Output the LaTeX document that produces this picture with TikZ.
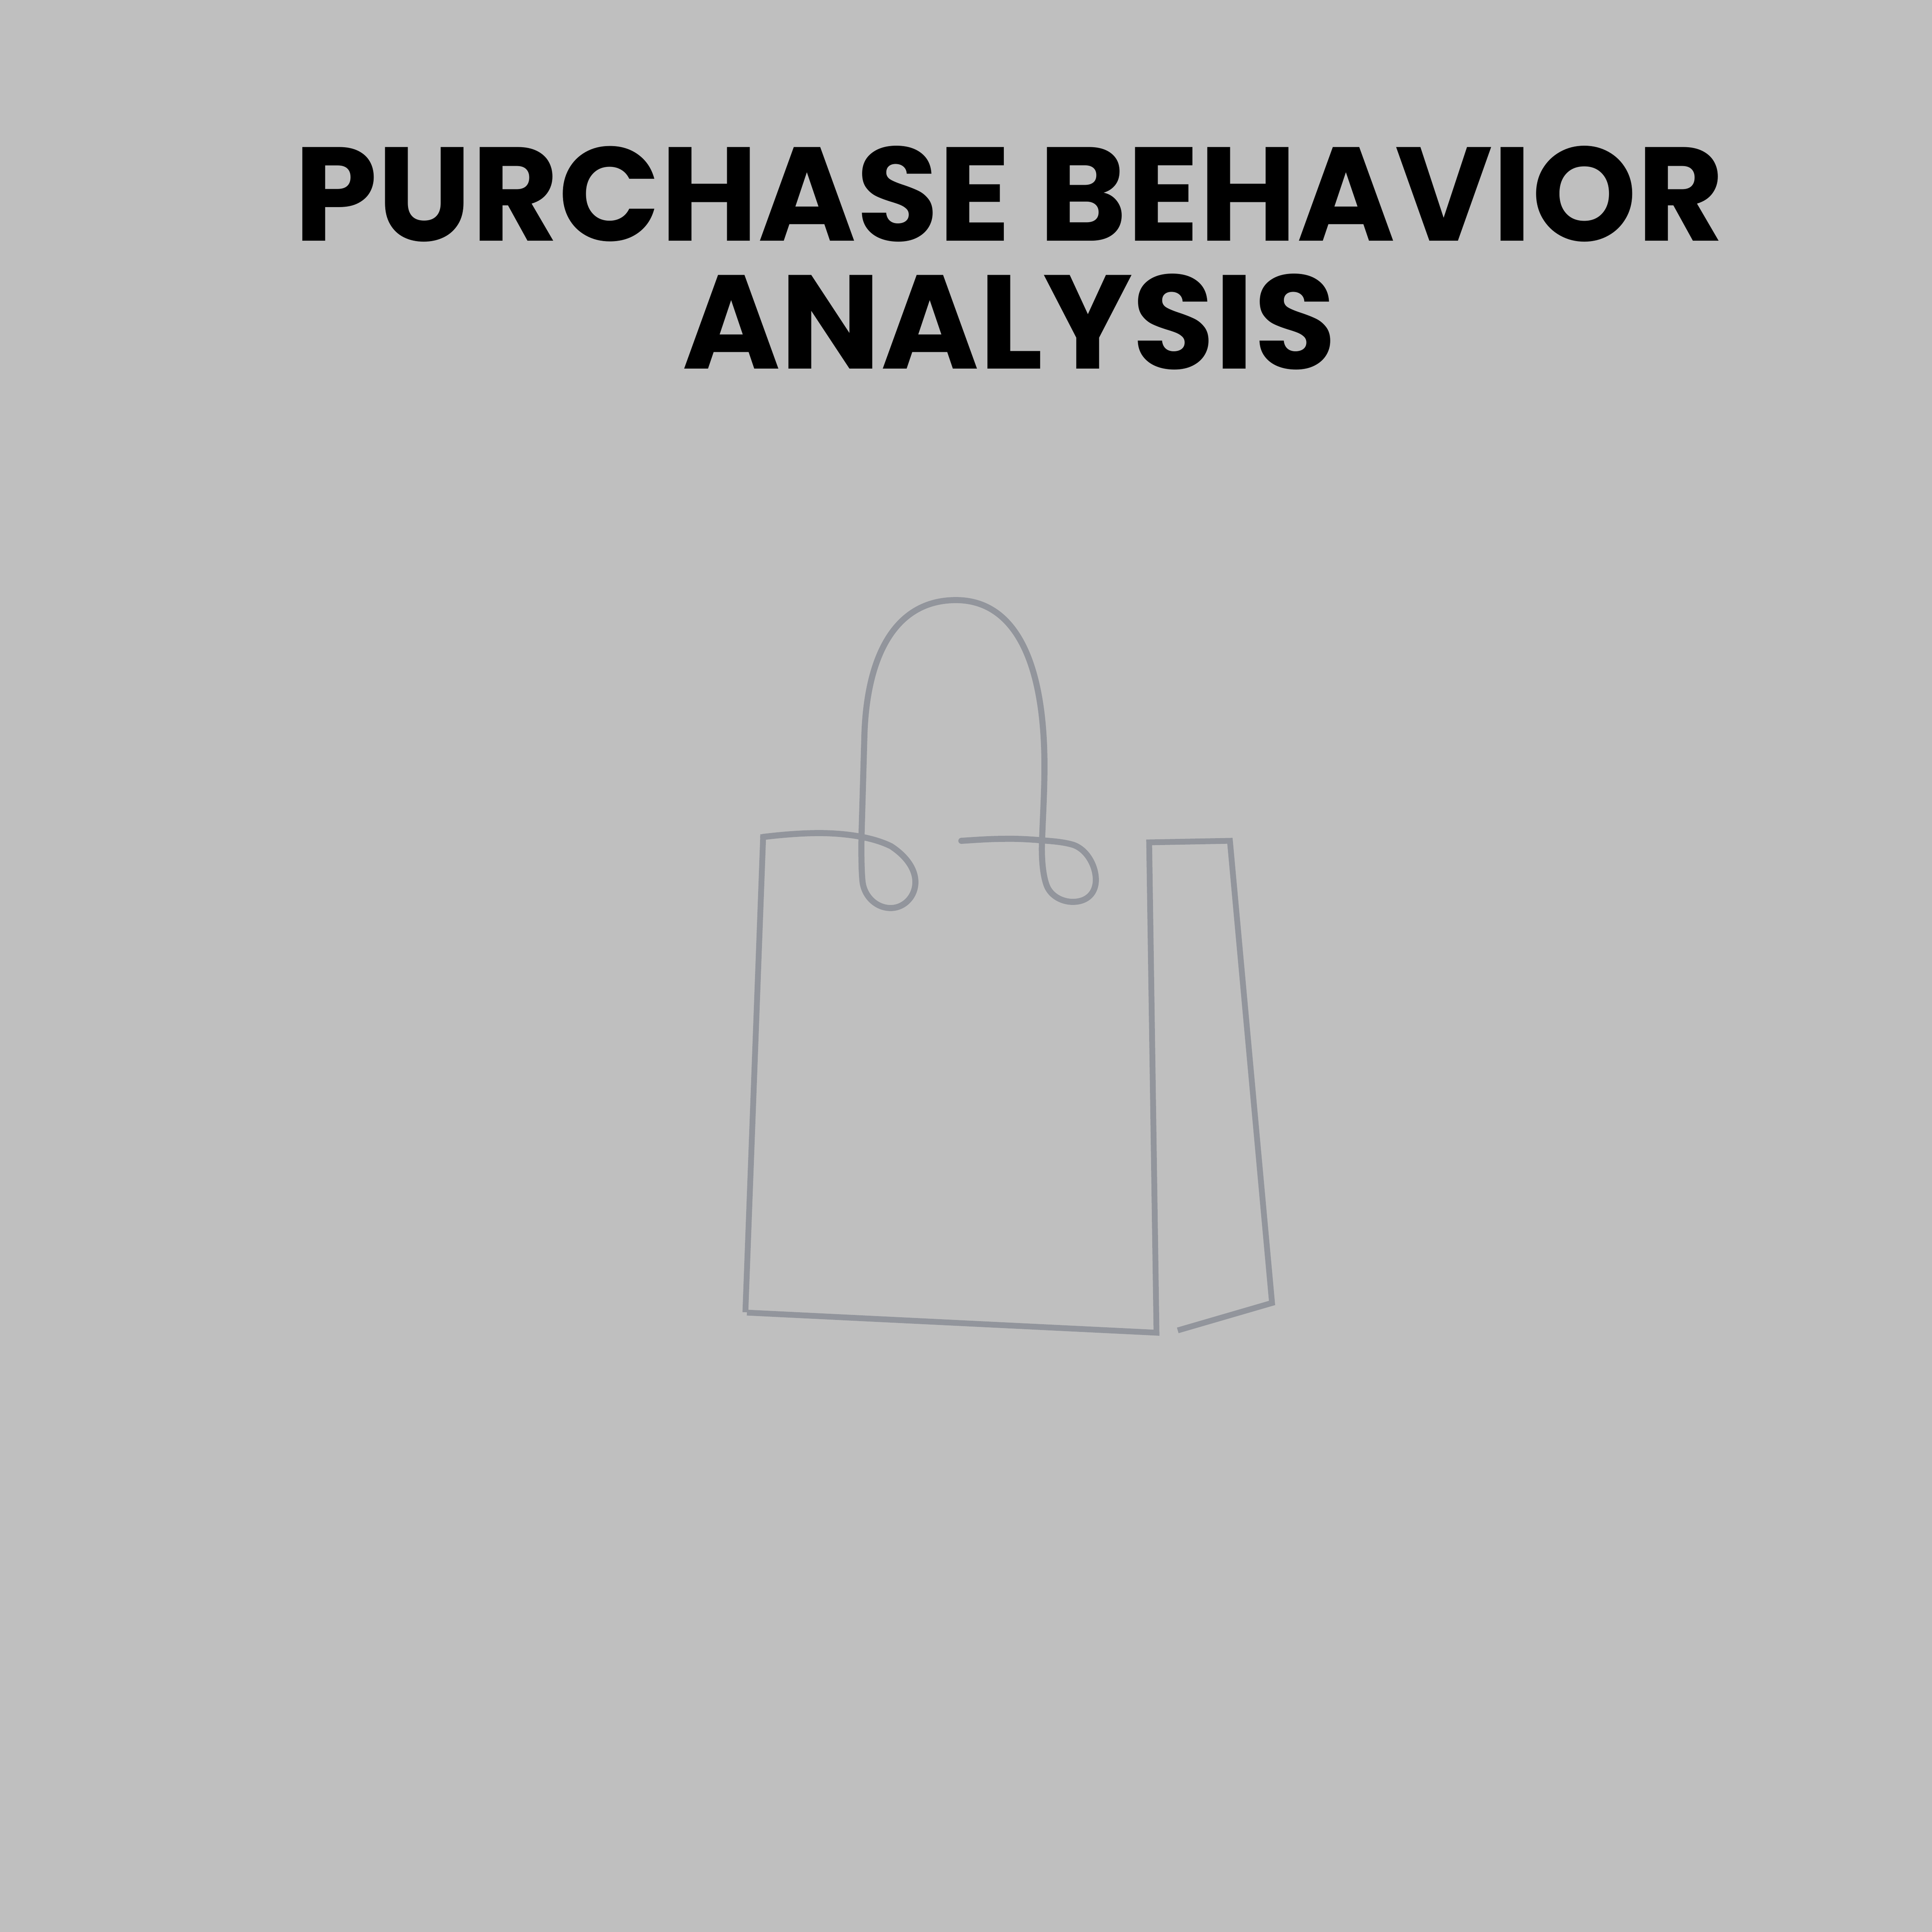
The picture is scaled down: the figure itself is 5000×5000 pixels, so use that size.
\documentclass[tikz,border=0pt]{standalone}
\usepackage{fontspec}
\setmainfont{Poppins}
\definecolor{bgc}{HTML}{BFBFBF}
\definecolor{bagc}{HTML}{92959C}
\tikzset{
  bagline/.style={draw=bagc,line width=3pt,miter limit=10},
  titletext/.style={font=\fontsize{69.1pt}{66.2pt}\selectfont\bfseries,text=black,align=center,inner sep=0pt}
}
\begin{document}
\begin{tikzpicture}[x=0.2pt,y=-0.2pt]
\useasboundingbox (0,0) rectangle (5000,5000);
\fill[bgc] (0,0) rectangle (5000,5000);
\node[titletext] (title) at (2611.5,667) {PURCHASE BEHAVIOR\\ANALYSIS};
% handle
\draw[bagline,line width=3.15pt,line join=round,line cap=round]
  (1975,2166) .. controls (2025,2160) and (2075,2156) .. (2120,2156)
  .. controls (2190,2156) and (2260,2167) .. (2306,2190)
  .. controls (2340,2212) and (2369,2245) .. (2369,2283)
  .. controls (2369,2320) and (2340,2350) .. (2305,2350)
  .. controls (2268,2350) and (2236,2320) .. (2232,2280)
  .. controls (2229,2250) and (2229,2200) .. (2229.5,2165)
  -- (2237,1904)
  .. controls (2243,1700) and (2315,1553) .. (2474,1553)
  .. controls (2620,1553) and (2703,1700) .. (2703,1983)
  .. controls (2703,2050) and (2699,2110) .. (2697,2171)
  .. controls (2695,2210) and (2697,2260) .. (2709,2292)
  .. controls (2720,2320) and (2750,2334) .. (2776,2334)
  .. controls (2815,2334) and (2836,2310) .. (2836,2277)
  .. controls (2836,2240) and (2812,2197) .. (2776,2186)
  .. controls (2752,2179) and (2725,2177) .. (2699,2175)
  .. controls (2665,2172) and (2630,2170) .. (2594,2171)
  .. controls (2560,2171) and (2520,2174) .. (2488,2176);
% body
\draw[bagline,line cap=butt] (1975,2159) -- (1975,2166) -- (1929,3396);
\draw[bagline,line cap=butt] (1933,3397) -- (2993,3449) -- (2974,2180) -- (3183,2176) -- (3292,3372) -- (3048,3443);
\end{tikzpicture}
\end{document}
